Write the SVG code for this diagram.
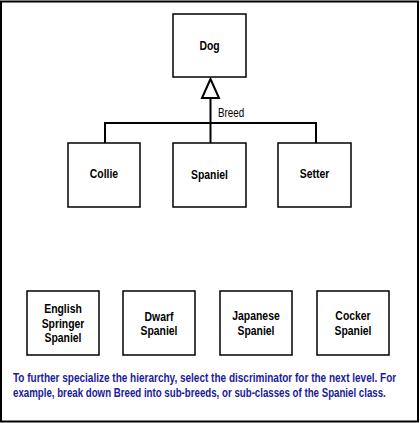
<svg xmlns="http://www.w3.org/2000/svg" width="420" height="423" viewBox="0 0 420 423">
<style>
.box{fill:#fff;stroke:#000;stroke-width:1.5}
.lbl{font-family:"Liberation Sans",Arial,sans-serif;font-weight:bold;font-size:13px;fill:#000;text-anchor:middle}
.conn{fill:none;stroke:#000;stroke-width:2}
.note{font-family:"Liberation Sans",Arial,sans-serif;font-weight:bold;font-size:12.5px;fill:#1a1a9c}
</style>
<rect x="0" y="0" width="420" height="423" fill="#fff"/>
<rect x="1" y="1.5" width="417" height="420" fill="none" stroke="#000" stroke-width="2"/>
<g id="connectors">
<path class="conn" d="M105,144 V123 H316 V144"/>
<path class="conn" d="M210.5,98 V144"/>
<polygon points="210.5,79 202,98 219,98" fill="#fff" stroke="#000" stroke-width="2"/>
<text transform="translate(218,117) scale(0.82,1)" x="0" y="0" font-family="'Liberation Sans',Arial,sans-serif" font-size="12px" fill="#000">Breed</text>
</g>
<g id="dog"><rect class="box" x="173" y="14" width="73" height="63"/><text class="lbl" transform="translate(209.5,50) scale(0.8,1)">Dog</text></g>
<g id="collie"><rect class="box" x="68" y="143" width="72" height="64"/><text class="lbl" transform="translate(104,178) scale(0.8,1)">Collie</text></g>
<g id="spaniel"><rect class="box" x="173" y="143" width="73" height="64"/><text class="lbl" transform="translate(209.5,179) scale(0.8,1)">Spaniel</text></g>
<g id="setter"><rect class="box" x="278" y="143" width="73" height="64"/><text class="lbl" transform="translate(314.5,178) scale(0.8,1)">Setter</text></g>
<g id="english"><rect class="box" x="27" y="291" width="72" height="64"/><text class="lbl" transform="translate(63,313) scale(0.8,1)">English</text><text class="lbl" transform="translate(63,328) scale(0.8,1)">Springer</text><text class="lbl" transform="translate(63,342) scale(0.8,1)">Spaniel</text></g>
<g id="dwarf"><rect class="box" x="123" y="291" width="72" height="64"/><text class="lbl" transform="translate(159,321) scale(0.8,1)">Dwarf</text><text class="lbl" transform="translate(159,335) scale(0.8,1)">Spaniel</text></g>
<g id="japanese"><rect class="box" x="220" y="291" width="72" height="64"/><text class="lbl" transform="translate(256,320) scale(0.8,1)">Japanese</text><text class="lbl" transform="translate(256,335) scale(0.8,1)">Spaniel</text></g>
<g id="cocker"><rect class="box" x="317" y="291" width="72" height="64"/><text class="lbl" transform="translate(353,320) scale(0.8,1)">Cocker</text><text class="lbl" transform="translate(353,335) scale(0.8,1)">Spaniel</text></g>
<text class="note" transform="translate(13,382) scale(0.8,1)" textLength="479" lengthAdjust="spacingAndGlyphs">To further specialize the hierarchy, select the discriminator for the next level.  For</text>
<text class="note" transform="translate(13,397) scale(0.8,1)" textLength="466" lengthAdjust="spacingAndGlyphs">example, break down Breed into sub-breeds, or sub-classes of the Spaniel class.</text>
</svg>
